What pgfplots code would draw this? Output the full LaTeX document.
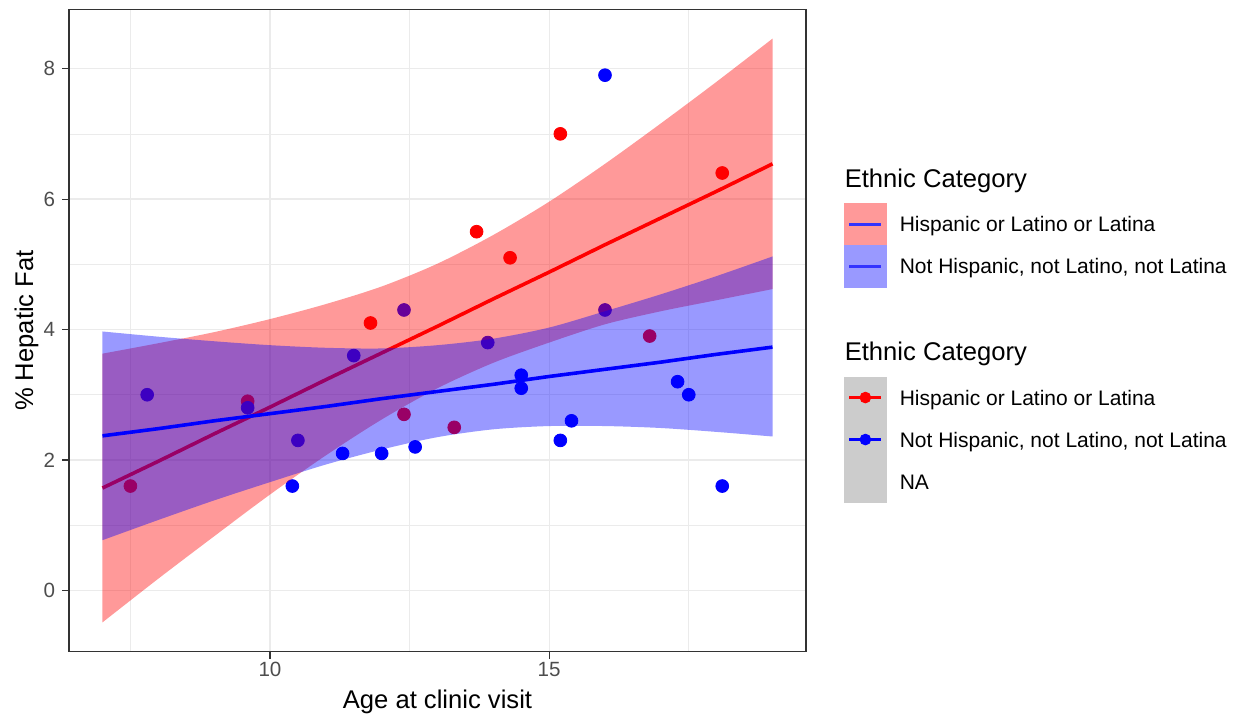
\documentclass[border=0pt]{standalone}
\usepackage{fontspec}
\setmainfont{Liberation Sans}
\usepackage{pgfplots}
\pgfplotsset{compat=1.18}
\usepgfplotslibrary{fillbetween}

\definecolor{gridc}{RGB}{235,235,235}
\definecolor{framec}{RGB}{51,51,51}
\definecolor{tickc}{RGB}{77,77,77}
\definecolor{keyred}{RGB}{255,153,153}
\definecolor{keyblue}{RGB}{153,153,255}
\definecolor{keygray}{RGB}{204,204,204}
\definecolor{keyline}{RGB}{51,51,255}
\newcommand\titlefont{\fontsize{12.8}{15}\selectfont}

% points
\pgfplotstableread{
x y
7.5 1.6
9.6 2.9
11.8 4.1
12.4 2.7
13.3 2.5
13.7 5.5
14.3 5.1
15.2 7.0
16.8 3.9
18.1 6.4
}\hisp
\pgfplotstableread{
x y
7.8 3.0
9.6 2.8
10.4 1.6
10.5 2.3
11.3 2.1
11.5 3.6
12.0 2.1
12.4 4.3
12.6 2.2
13.9 3.8
14.5 3.3
14.5 3.1
15.2 2.3
15.4 2.6
16.0 7.9
16.0 4.3
17.3 3.2
17.5 3.0
18.1 1.6
}\nonhisp
% fitted lines and their bands
\pgfplotstableread{
x fit u l
7  1.57 3.63 -0.49
8  1.98 3.79 0.18
9  2.40 3.96 0.83
10 2.81 4.16 1.47
11 3.23 4.39 2.07
12 3.64 4.66 2.62
13 4.05 5.01 3.10
14 4.47 5.45 3.49
15 4.88 5.96 3.80
16 5.30 6.54 4.08
17 5.71 7.16 4.28
18 6.12 7.80 4.45
19 6.54 8.46 4.62
}\hispfit
\pgfplotstableread{
x fit u l
7  2.37 3.97 0.77
8  2.48 3.89 1.08
9  2.60 3.82 1.38
10 2.71 3.76 1.66
11 2.82 3.72 1.93
12 2.94 3.71 2.16
13 3.05 3.76 2.35
14 3.16 3.86 2.47
15 3.28 4.03 2.52
16 3.39 4.28 2.52
17 3.50 4.54 2.49
18 3.62 4.82 2.43
19 3.73 5.12 2.36
}\nonhispfit

\begin{document}
\begin{tikzpicture}
\begin{axis}[
  scale only axis,
  width=368.5pt, height=321.2pt,
  xmin=6.4, xmax=19.6,
  ymin=-0.94, ymax=8.91,
  xtick={10,15}, ytick={0,2,4,6,8},
  minor xtick={7.5,12.5,17.5}, minor ytick={1,3,5,7},
  grid=both,
  major grid style={gridc, line width=0.6pt},
  minor grid style={gridc, line width=0.35pt},
  axis line style={framec, line width=0.55pt},
  tick style={framec, line width=0.55pt},
  tick align=outside, tick pos=left,
  major tick length=3.4pt, minor tick length=0pt,
  /pgf/number format/assume math mode=true,
  tick label style={font=\fontsize{10.3}{12}\selectfont, text=tickc},
  xticklabel style={yshift=1.5pt},
  label style={font=\titlefont},
  xlabel={Age at clinic visit},
  ylabel={\% Hepatic Fat},
  xlabel style={at={(axis description cs:0.5,-0.0887)}, anchor=base},
  ylabel style={at={(axis description cs:-0.0488,0.5)}, anchor=base, rotate=0},
  fill between/on layer=main,
  clip marker paths=true,
  legend style={at={(1,1)}, anchor=north west, xshift=19pt, yshift=-80pt,
    draw=none, fill=none, inner sep=0pt, outer sep=0pt,
    row sep=0pt, column sep=6.5pt,
    cells={anchor=base west},
    nodes={inner sep=0pt, text depth={}},
    font=\fontsize{10.5}{12.5}\selectfont},
]
\coordinate (ll) at (rel axis cs:0,0);
\coordinate (ur) at (rel axis cs:1,1);

\addplot[only marks, mark=*, mark size=3.2pt, red, forget plot] table[x=x, y=y] {\hisp};
\addplot[only marks, mark=*, mark size=3.2pt, blue, forget plot] table[x=x, y=y] {\nonhisp};

\addplot[draw=none, smooth, name path=ru, forget plot] table[x=x, y=u] {\hispfit};
\addplot[draw=none, smooth, name path=rl, forget plot] table[x=x, y=l] {\hispfit};
\addplot[red, fill opacity=0.4, draw=none, forget plot] fill between[of=ru and rl];
\addplot[red, line width=1.8pt, forget plot] table[x=x, y=fit] {\hispfit};

\addplot[draw=none, smooth, name path=bu, forget plot] table[x=x, y=u] {\nonhispfit};
\addplot[draw=none, smooth, name path=bl, forget plot] table[x=x, y=l] {\nonhispfit};
\addplot[blue, fill opacity=0.4, draw=none, forget plot] fill between[of=bu and bl];
\addplot[blue, line width=1.8pt, forget plot] table[x=x, y=fit] {\nonhispfit};

% legend: fill keys
\addlegendimage{empty legend}
\addlegendentry{\hspace*{-27.5pt}\titlefont Ethnic Category\rule[-7.8pt]{0pt}{7.8pt}}
\addlegendimage{legend image code/.code={
  \fill[keyred] (0pt,-6.55pt) rectangle (21pt,14.05pt);
  \draw[keyline, line width=1.4pt] (2.5pt,3.75pt) -- (18.5pt,3.75pt);}}
\addlegendentry{Hispanic or Latino or Latina}
\addlegendimage{legend image code/.code={
  \fill[keyblue] (0pt,-6.55pt) rectangle (21pt,14.05pt);
  \draw[keyline, line width=1.4pt] (2.5pt,3.75pt) -- (18.5pt,3.75pt);}}
\addlegendentry{Not Hispanic, not Latino, not Latina}
% legend: point keys
\addlegendimage{empty legend}
\addlegendentry{\hspace*{-27.5pt}\titlefont Ethnic Category\rule[-7.85pt]{0pt}{44.55pt}}
\addlegendimage{legend image code/.code={
  \fill[keygray] (0pt,-6.55pt) rectangle (21pt,14.05pt);
  \draw[red, line width=1.4pt] (2.5pt,3.75pt) -- (18.5pt,3.75pt);
  \fill[red] (10.5pt,3.75pt) circle (2.7pt);}}
\addlegendentry{Hispanic or Latino or Latina}
\addlegendimage{legend image code/.code={
  \fill[keygray] (0pt,-6.55pt) rectangle (21pt,14.05pt);
  \draw[blue, line width=1.4pt] (2.5pt,3.75pt) -- (18.5pt,3.75pt);
  \fill[blue] (10.5pt,3.75pt) circle (2.7pt);}}
\addlegendentry{Not Hispanic, not Latino, not Latina}
\addlegendimage{legend image code/.code={
  \fill[keygray] (0pt,-6.55pt) rectangle (21pt,14.05pt);}}
\addlegendentry{NA}
\end{axis}
\pgfresetboundingbox
\path ([shift={(-34.5pt,-31.65pt)}]ll) rectangle ([shift={(213.5pt,4.65pt)}]ur);
\end{tikzpicture}
\end{document}
